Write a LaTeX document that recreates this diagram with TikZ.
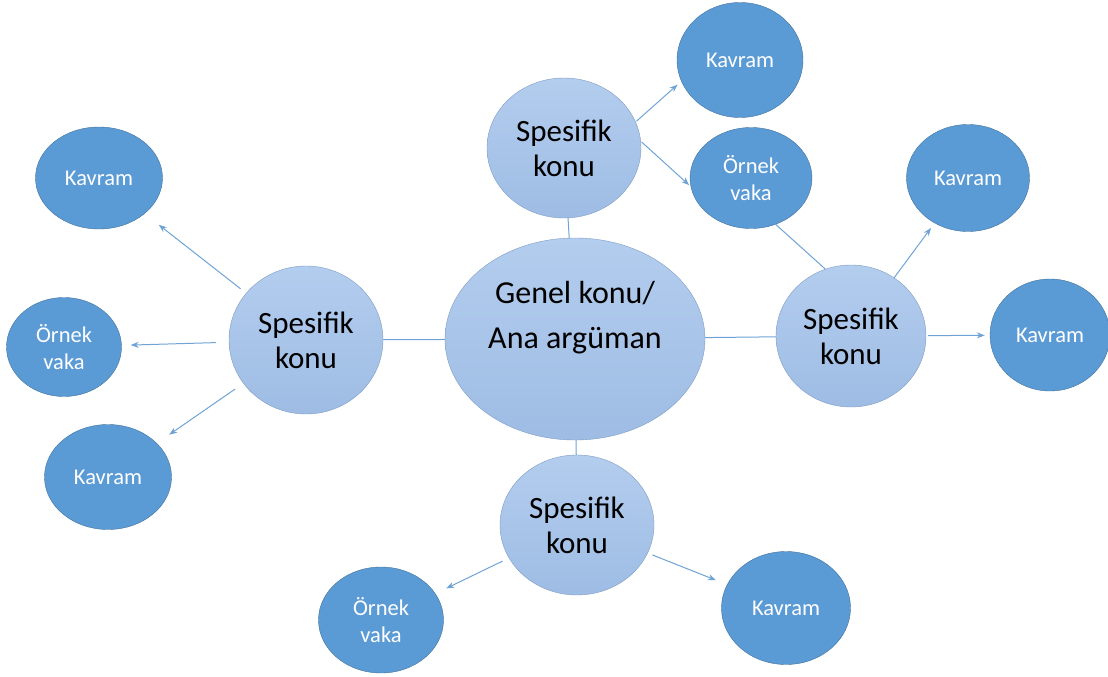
\documentclass[tikz,border=0pt]{standalone}
\usepackage{fontspec}
\setmainfont{Carlito}
\usetikzlibrary{positioning, shapes.geometric, arrows.meta}
\definecolor{spestop}{HTML}{B3CDEE}
\definecolor{spesbot}{HTML}{9EBCE4}
\definecolor{spesline}{HTML}{7F9CC4}
\definecolor{altblue}{HTML}{5B9BD5}
\definecolor{altline}{HTML}{41719C}
\definecolor{bagline}{HTML}{6FA3D6}

\begin{document}
\begin{tikzpicture}[x=1pt, y=-1pt,
  spes/.style={ellipse, draw=spesline, top color=spestop, bottom color=spesbot, inner sep=0pt, align=center, font=\fontsize{31}{35}\selectfont},
  alt/.style={ellipse, draw=altline, fill=altblue, text=white, inner sep=0pt, align=center, font=\fontsize{22.5}{27}\selectfont},
  bag/.style={draw=bagline, line width=1pt},
  ok/.style={bag, -{Stealth[length=8pt, width=6pt]}, shorten <=5pt, shorten >=10pt}]
  \useasboundingbox (0,0) rectangle (1108,677);
  % center topic
  \node[spes, minimum width=260pt, minimum height=202pt] (genel) at (575,339) {};
  \node[align=center, font=\fontsize{32}{45}\selectfont] (genelyazi) at (575,318) {Genel konu/\\Ana argüman};
  % specific topics
  \node[spes, minimum width=154pt, minimum height=140pt] (sptop) at (564,148) {Spesifik\\konu};
  \node[spes, minimum width=154pt, minimum height=148pt] (spleft) at (306,340) {Spesifik\\konu};
  \node[spes, minimum width=150pt, minimum height=142pt] (spright) at (851,336) {Spesifik\\konu};
  \node[spes, minimum width=154pt, minimum height=140pt] (spbot) at (577,525) {Spesifik\\konu};
  % concepts and examples
  \node[alt, minimum width=126pt, minimum height=115pt] (kvtop) at (740,60) {Kavram};
  \node[alt, minimum width=122pt, minimum height=101pt] (orntop) at (751,178) {Örnek\\vaka};
  \node[alt, minimum width=123pt, minimum height=107pt] (kvrup) at (968,178) {Kavram};
  \node[alt, minimum width=120pt, minimum height=112pt] (kvright) at (1050,335) {Kavram};
  \node[alt, minimum width=127pt, minimum height=102pt] (kvlup) at (99,178) {Kavram};
  \node[alt, minimum width=115pt, minimum height=99pt] (ornleft) at (64,347) {Örnek\\vaka};
  \node[alt, minimum width=127pt, minimum height=105pt] (kvldown) at (108,477) {Kavram};
  \node[alt, minimum width=125pt, minimum height=106pt] (ornbot) at (381,620) {Örnek\\vaka};
  \node[alt, minimum width=129pt, minimum height=113pt] (kvbot) at (786,608) {Kavram};
  % links
  \draw[bag] (genel) -- (sptop);
  \draw[bag] (genel) -- (spleft);
  \draw[bag] (genel) -- (spright);
  \draw[bag] (genel) -- (spbot);
  \draw[bag] (orntop.-62) -- (spright.111);
  \draw[ok, shorten <=1pt, shorten >=5pt] (sptop.20) -- (kvtop.200);
  \draw[ok, shorten <=1pt, shorten >=2pt] (sptop.5) -- (orntop.188);
  \draw[ok, shorten <=0pt, shorten >=6pt] (spright) -- (kvrup);
  \draw[ok, shorten <=2pt, shorten >=5pt] (spright) -- (kvright);
  \draw[ok, shorten <=7pt, shorten >=18pt] (spleft) -- (kvlup);
  \draw[ok, shorten <=13pt, shorten >=9pt] (spleft) -- (ornleft);
  \draw[ok, shorten <=10pt, shorten >=15pt] (spleft) -- (kvldown);
  \draw[ok, shorten <=7pt, shorten >=12pt] (spbot) -- (ornbot);
  \draw[ok, shorten <=5pt, shorten >=12pt] (spbot) -- (kvbot);
\end{tikzpicture}
\end{document}
